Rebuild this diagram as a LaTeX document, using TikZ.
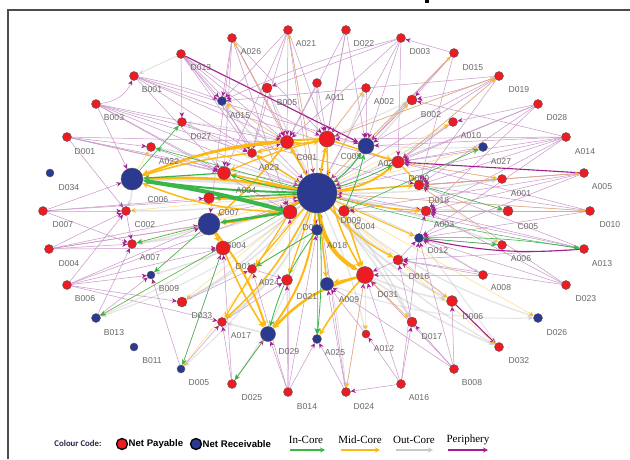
\documentclass[tikz,border=0pt]{standalone}
\usepackage{fontspec}
\setmainfont{Liberation Serif}
\newfontfamily\lbf{Liberation Sans}
\newfontfamily\clb{Carlito}
\usetikzlibrary{arrows.meta}
\pgfdeclarelayer{bgl}
\pgfdeclarelayer{edges}
\pgfdeclarelayer{labels}
\pgfsetlayers{bgl,edges,labels,main}
\definecolor{nred}{RGB}{237,28,36}
\definecolor{nblue}{RGB}{43,57,144}
\definecolor{perl}{RGB}{200,150,200}
\definecolor{perd}{RGB}{165,30,145}
\definecolor{midc}{RGB}{253,185,19}
\definecolor{inc}{RGB}{57,181,74}
\definecolor{outc}{RGB}{200,200,200}
\definecolor{labg}{RGB}{105,105,105}
\definecolor{navy}{RGB}{40,40,75}
\tikzset{
 rn/.style={circle,fill=nred,draw=black!65,line width=0.4pt,inner sep=0pt,minimum size=#1},
 rn/.default=9,
 bn/.style={circle,fill=nblue,draw=black!65,line width=0.4pt,inner sep=0pt,minimum size=#1},
 bn/.default=9,
 lab/.style={font=\lbf\fontsize{8.6}{9}\selectfont,text=labg,inner sep=0pt},
 per/.style={draw=perl,line width=0.5pt,-{Stealth[length=5pt,width=4.5pt,color=perd]}},
 perk/.style={draw=perd,line width=1.1pt,-{Stealth[length=6pt,width=5pt,color=perd]}},
 midl/.style={draw=midc,-{Stealth[length=6pt,width=6pt,color=midc]}},
 midf/.style={draw=midc,draw opacity=0.45,line width=0.6pt,-{Stealth[length=5pt,width=5pt,color=midc]}},
 inl/.style={draw=inc,-{Stealth[length=6pt,width=5pt,color=inc]}},
 outl/.style={draw=outc,draw opacity=0.5,-{Stealth[length=6pt,width=5pt,color=outc]}},
 legar/.style={line width=1.6pt,-{Stealth[length=5pt,width=5pt]}}
}
\begin{document}
\begin{tikzpicture}[x=1pt,y=-1pt]
\useasboundingbox (0,0) rectangle (630,459);
\begin{pgfonlayer}{bgl}
\fill[white] (0,0) rectangle (630,459);
\end{pgfonlayer}
% frame
\draw[black!70,line width=1.2pt] (8,459) -- (8,10) -- (630,10);
\fill[black] (425,0) rectangle (429,3);
% nodes
\node[rn] (D013) at (181,54) {};
\node[rn] (B001) at (134,76) {};
\node[rn] (B003) at (96,104) {};
\node[rn] (D027) at (182,122) {};
\node[rn] (D001) at (67,137) {};
\node[rn] (A022) at (151,147) {};
\node[bn=8] (D034) at (50,173) {};
\node[bn=22] (C006) at (132,179) {};
\node[rn] (D007) at (43,211) {};
\node[rn] (C002) at (126,211) {};
\node[rn=11] (C007) at (209,198) {};
\node[rn=13] (A004) at (224,173) {};
\node[bn=22] (B004) at (209,224) {};
\node[rn] (A023) at (252,153) {};
\node[rn=13] (C001) at (287,142) {};
\node[rn=16] (C003) at (327,139) {};
\node[bn=16] (A020) at (366,146) {};
\node[rn=12] (D020) at (398,162) {};
\node[bn=40] (D009) at (317,193) {};
\node[rn=11] (C004) at (344,211) {};
\node[rn=14] (D030) at (290,212) {};
\node[bn=11] (A018) at (317,230) {};
\node[rn=10] (D018) at (419,185) {};
\node[rn=10] (A003) at (426,211) {};
\node[bn=9] (D012) at (419,238) {};
\node[rn=10] (D016) at (398,260) {};
\node[rn=14] (D014) at (223,248) {};
\node[rn] (A024) at (252,269) {};
\node[rn=11] (D021) at (287,280) {};
\node[bn=13] (A009) at (327,284) {};
\node[rn=17] (D031) at (365,275) {};
\node[rn] (A007) at (132,244) {};
\node[rn] (D004) at (49,249) {};
\node[bn=8] (B009) at (151,275) {};
\node[rn] (B006) at (67,285) {};
\node[rn=10] (D033) at (182,302) {};
\node[rn] (A017) at (222,322) {};
\node[bn=15] (D029) at (268,334) {};
\node[bn=9] (A025) at (317,339) {};
\node[rn=8] (A012) at (366,334) {};
\node[rn=10] (D017) at (412,322) {};
\node[bn] (B013) at (96,318) {};
\node[bn=8] (B011) at (134,347) {};
\node[bn=8] (D005) at (181,369) {};
\node[rn] (D025) at (232,384) {};
\node[rn] (B014) at (288,392) {};
\node[rn] (D024) at (346,392) {};
\node[rn] (A016) at (401,384) {};
\node[rn] (B008) at (454,369) {};
\node[rn] (D032) at (499,347) {};
\node[bn] (D026) at (538,318) {};
\node[rn=11] (D006) at (452,301) {};
\node[rn] (D023) at (566,285) {};
\node[rn] (A008) at (483,275) {};
\node[rn] (A013) at (584,249) {};
\node[rn] (A006) at (502,245) {};
\node[rn] (D010) at (590,211) {};
\node[rn=10] (C005) at (508,211) {};
\node[rn] (A001) at (502,179) {};
\node[rn] (A005) at (584,173) {};
\node[rn] (A014) at (566,137) {};
\node[bn] (A027) at (483,147) {};
\node[rn] (A010) at (453,122) {};
\node[rn] (D028) at (538,104) {};
\node[rn] (D019) at (499,76) {};
\node[rn] (D015) at (454,53) {};
\node[rn] (D003) at (401,38) {};
\node[rn] (D022) at (346,30) {};
\node[rn] (A021) at (288,30) {};
\node[rn] (A026) at (232,38) {};
\node[rn=10] (B005) at (267,88) {};
\node[rn] (A011) at (317,83) {};
\node[rn] (A002) at (366,88) {};
\node[rn=10] (B002) at (412,100) {};
\node[bn] (A015) at (222,101) {};
% labels
\begin{pgfonlayer}{labels}
\foreach \la/\lx/\ly in {D013/201/68,B001/152/90,B003/114/118,D027/201/137,D001/85/152,A022/169/162,
 D034/69/188,C006/158/200,D007/63/225,C002/145/225,D004/69/264,A007/150/258,B009/169/289,B006/85/299,
 D033/202/316,B013/114/333,B011/152/361,D005/199/383,A017/241/336,D029/289/352,A025/335/353,
 A012/384/349,D025/252/398,B014/307/407,D024/364/407,A016/419/398,D021/307/297,A009/349/300,
 D031/388/295,A024/269/283,D014/246/267,B004/236/246,C007/229/213,A004/246/191,A023/269/168,
 C001/307/158,C003/351/157,A020/388/164,D020/419/179,D009/351/221,C004/365/227,D030/313/228,
 A018/337/246,D018/439/201,A003/444/225,D012/438/251,D016/419/277,A027/501/162,A014/585/152,
 A005/602/187,A001/521/194,C005/528/227,D010/610/225,A006/521/259,A013/602/264,A008/501/288,
 D023/586/299,D006/473/317,D017/432/337,D026/557/333,D032/519/361,B008/472/383,D015/473/68,
 D019/519/90,D028/557/118,A010/471/136,B002/431/115,D003/420/52,A026/251/52,A021/306/44,
 D022/364/44,B005/287/103,A011/335/98,A002/384/102,A015/240/116}
 \node[lab] at (\lx,\ly) {\la};
\end{pgfonlayer}
% edges
\begin{pgfonlayer}{edges}
% out-core (grey)
\foreach \sa/\ta/\wa/\ba in {D009/C006/4/-4,D009/C002/1.5/5,D009/A015/1.5/5,D009/D027/1.5/0,C001/D027/1/-5,
 D009/B005/1.5/0,D009/A022/1.5/-5,D009/A007/1.5/8,D009/B009/1.5/10,D009/D033/1.5/10,D009/A017/2/15,
 D009/D032/1.2/-10,D009/D026/1.2/-10,D009/D006/2/-10,D009/D016/2/-8,D012/D032/1/0,A009/D026/1/-10,
 D031/D006/1.5/-5,D009/A001/1.5/-5,D009/C005/1.5/-5,D009/A006/1.5/5,D009/A010/1.5/-5,D009/A002/1.5/-5,
 D009/A011/1.5/0,D009/B002/1.5/-5,C003/B002/1/0,D009/A008/1.2/5,D009/D017/1.5/5,D009/A012/1.2/5,
 D009/B013/1/10,D009/D005/1/10,D009/D025/1/10,D013/B001/1/0,C006/C002/1.5/10,B004/A007/1.5/5,
 D030/D033/1.5/10,A018/D024/1/5,D014/B013/1/5,C001/A015/1/0,C003/A027/1/-5,D020/A010/1/0,
 D018/A001/1/0,C004/D017/1.5/5,D031/D032/1.5/-5,A003/C005/1/0,D029/A017/1.5/0}
 \draw[outl,line width=\wa pt] (\sa) to[bend left=\ba] (\ta);
% periphery (purple)
\foreach \sa/\ta/\ba in {D013/A015/0,D013/C001/0,D013/D009/0,D013/D030/5,D013/A023/0,D013/C003/-5,D013/D027/0,
 B001/A015/5,B001/C001/0,B001/D009/0,B001/A004/0,B001/D020/-3,B001/A020/0,
 B003/B001/-30,B003/C006/0,B003/A023/0,B003/C001/0,B003/D009/0,B003/D018/0,B003/A004/0,B003/D030/0,
 D001/A022/0,D001/C001/0,D001/D009/0,D001/A003/0,D001/C002/0,D001/A004/0,
 A026/A015/0,A026/C001/0,A026/D009/0,A026/C003/0,A026/B004/0,A026/A004/0,A026/D030/0,
 A021/C001/0,A021/D009/0,A021/C003/0,A021/A023/0,A021/A004/0,A021/A018/0,A021/A015/0,
 D022/A020/0,D022/C003/0,D022/D009/0,D022/C001/0,
 D003/A020/0,D003/C001/0,D003/D009/0,D003/A015/-5,D003/D020/0,D003/B005/0,
 D015/D009/0,D015/A020/0,D015/B002/0,D015/D003/0,D015/D018/0,
 D019/D020/0,D019/A020/0,D019/D009/0,D019/B002/5,D019/D018/0,D019/C003/0,D019/A015/0,
 D028/D020/0,D028/D018/0,D028/A003/0,D028/D009/0,D028/A010/0,
 A014/D020/0,A014/D018/0,A014/A020/0,A014/D009/0,A014/A003/0,A014/D012/0,A014/B002/0,A014/C003/0,
 A005/D018/0,A005/A003/0,A005/D012/0,A005/D009/0,A005/C004/0,
 D010/D018/0,D010/A003/0,D010/D012/0,D010/D020/0,D010/D009/0,D010/C004/0,
 A013/A003/0,A013/D018/0,A013/D016/0,A013/D009/0,
 D023/D012/0,D023/D018/0,D023/D016/0,D023/A003/0,
 A008/D031/0,A008/D012/0,A008/D016/0,
 B008/D006/0,B008/D017/0,B008/D031/0,B008/A009/0,B008/D012/0,
 A016/D031/0,A016/A012/0,A016/D017/0,A016/D012/0,A016/D024/0,
 D024/A025/0,D024/A009/0,D024/D031/0,D024/D009/0,
 B014/D029/0,B014/A025/0,B014/D021/0,B014/A024/0,B014/D030/0,B014/A018/0,
 D025/D029/0,D025/D014/0,D025/A017/0,
 D005/B009/0,D005/A017/0,D005/D014/0,
 B013/A007/0,B013/B009/0,
 D004/C002/0,D004/A007/0,D004/B004/0,D004/D009/0,D004/D014/0,D004/D030/0,
 D007/C002/0,D007/C006/0,D007/C007/0,D007/A007/0,D007/D009/0,
 B006/C002/0,B006/B009/0,B006/B004/0,B006/D014/0,B006/A017/0,B006/D033/0,B006/D009/0,
 A002/A020/0,A011/C003/0,B005/C001/0,A010/D020/0,A027/D020/0,A001/D020/0,A001/D018/0,
 C005/A003/0,A006/D012/0,D006/D016/0,D017/D031/0,A012/A009/0,B002/A020/0,A015/A023/0,
 A022/A004/0,C002/A007/0,D033/A024/0,A017/D021/0,D016/D031/0,D017/D016/0,A024/D021/0,
 D027/A023/0,A023/C001/0,B005/A023/0,A011/C001/0,A002/C003/0,D012/A003/0,D016/D012/0}
 \draw[per] (\sa) to[bend left=\ba] (\ta);
\foreach \sa/\ta/\ba in {D013/A020/0,A005/D020/0,A013/D012/8,D006/D032/0}
 \draw[perk] (\sa) to[bend left=\ba] (\ta);
% mid-core faint
\foreach \sa/\ta in {D009/A021,C003/A002,D009/A010,D009/A027,C003/D019,D009/D015,C006/A022,D009/C002,
 D009/A007,B004/B009,D009/B013,D009/D033,D009/D005,D029/D025,D031/D024,D031/A012,D009/D032,D009/D026,
 D009/D006,D018/A006,D009/A005,D009/D010,C001/A015,D009/A026,D020/A001,D031/D017,A020/B002,D020/D019}
 \draw[midf] (\sa) -- (\ta);
% mid-core
\foreach \sa/\ta/\wa/\ba in {D009/C006/2.6/-6,C001/C006/2/-8,C003/C006/2/-10,A023/C006/1.5/-5,D030/C006/1.5/10,
 D009/B004/2.5/10,C001/B004/1.5/5,D009/D031/4/-25,C003/D031/1.5/-15,D009/D029/2/15,D031/D029/2.5/-15,
 D031/A025/1.5/-5,D014/D029/1.5/-5,B004/D029/2/10,D009/C003/2/0,D009/C001/1.5/0,C001/C003/1.5/-10,
 D009/D020/2/-15,C003/D020/1.5/0,D009/A004/1.5/0,D009/A023/1.2/0,D009/C007/1.5/5,D009/D018/1.5/0,
 D009/A003/1.2/-5,D009/D012/1/0,D009/D016/1.2/-10,C003/A023/1/0,D009/A024/1.2/0,D009/D021/1.2/0,
 D009/A009/1.5/0,C004/D031/1.5/0,B004/D014/1.2/0,D030/A017/1.2/0,D009/A017/1.5/10,D031/A009/1.2/0,
 C003/A004/1.2/-5,D020/D018/1.2/0}
 \draw[midl,line width=\wa pt] (\sa) to[bend left=\ba] (\ta);
% in-core
\foreach \sa/\ta/\wa/\ba in {D030/C006/4/-3,D009/C006/2/3,D030/B004/2.5/0,D009/C007/1.2/0,D009/A020/1/-10,
 C004/A020/0.8/-5,D009/D020/0.8/-5,A018/A024/0.8/0,A018/D029/0.8/-10,A018/A025/0.8/0,D009/A025/0.8/5,
 C004/A027/0.6/0,D018/C005/0.6/0,D012/A006/0.6/0,D012/A013/0.6/5,D009/A022/0.6/0,C006/D027/0.6/0,
 D029/D025/0.6/0,D009/B013/0.5/0,B004/A007/0.6/0,B004/B009/0.6/0,D014/D005/0.5/0,D009/A013/0.5/-3,
 A004/C006/1.2/0,D009/A004/1/5}
 \draw[inl,line width=\wa pt] (\sa) to[bend left=\ba] (\ta);
\end{pgfonlayer}
% legend
\node[font=\clb\bfseries\fontsize{8.8}{9}\selectfont,text=navy,inner sep=0pt] (cc) at (78,443) {Colour Code:};
\node[circle,fill=nred,draw=black,line width=1.3pt,minimum size=11pt,inner sep=0pt] (lp) at (122,444) {};
\node[font=\lbf\bfseries\fontsize{9.6}{10}\selectfont,anchor=west,inner sep=0pt] (lpt) at (128.5,444) {Net Payable};
\node[circle,fill=nblue,draw=black,line width=1.3pt,minimum size=11pt,inner sep=0pt] (lr) at (196,444) {};
\node[font=\lbf\bfseries\fontsize{9.6}{10}\selectfont,anchor=west,inner sep=0pt] (lrt) at (202.5,444) {Net Receivable};
\node[font=\fontsize{11}{12}\selectfont,inner sep=0pt] (t1) at (306,440) {In-Core};
\node[font=\fontsize{11}{12}\selectfont,inner sep=0pt] (t2) at (360,440) {Mid-Core};
\node[font=\fontsize{11}{12}\selectfont,inner sep=0pt] (t3) at (414,440) {Out-Core};
\node[font=\fontsize{11}{12}\selectfont,inner sep=0pt] (t4) at (468,440) {Periphery};
\coordinate (g1) at (290,450); \coordinate (g2) at (325,450);
\coordinate (y1) at (341,450); \coordinate (y2) at (380,450);
\coordinate (o1) at (396,450); \coordinate (o2) at (433,450);
\coordinate (p1) at (448,450); \coordinate (p2) at (488,450);
\draw[legar,draw=inc,-{Stealth[length=5pt,width=5pt,color=inc]}] (g1) -- (g2);
\draw[legar,draw=midc,-{Stealth[length=5pt,width=5pt,color=midc]}] (y1) -- (y2);
\draw[legar,draw=outc,-{Stealth[length=5pt,width=5pt,color=outc]}] (o1) -- (o2);
\draw[legar,draw=perd,-{Stealth[length=5pt,width=5pt,color=perd]}] (p1) -- (p2);
\end{tikzpicture}
\end{document}
